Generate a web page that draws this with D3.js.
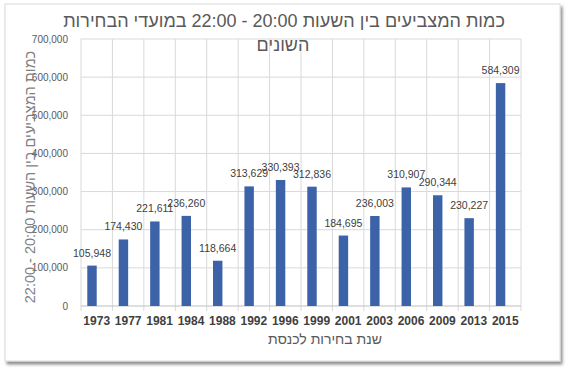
<!DOCTYPE html>
<html lang="he">
<head>
<meta charset="UTF-8">
<title>כמות המצביעים</title>
<script src="https://cdn.jsdelivr.net/npm/d3@7"></script>
<style>
    body { margin: 0; background: #fff; }
    svg text { font-family: "Liberation Sans", Arial, sans-serif; }
</style>
</head>
<body>
<div id="chart"></div>
<script>
    // data
    var years = ["1973", "1977", "1981", "1984", "1988", "1992", "1996", "1999", "2001", "2003", "2006", "2009", "2013", "2015"];
    var voters = [105948, 174430, 221611, 236260, 118664, 313629, 330393, 312836, 184695, 236003, 310907, 290344, 230227, 584309];
    var yTicks = [0, 100000, 200000, 300000, 400000, 500000, 600000, 700000];

    var width = 566;
    var height = 373;
    var plot = {left: 81, right: 521, top: 39, bottom: 306};

    var svg = d3.select("#chart")
        .append("svg")
        .attr("width", width)
        .attr("height", height);

    // frame with shadow
    var defs = svg.append("defs");
    var f = defs.append("filter").attr("id", "shadow")
        .attr("x", "-5%").attr("y", "-5%").attr("width", "110%").attr("height", "115%");
    f.append("feDropShadow")
        .attr("dx", 2).attr("dy", 3).attr("stdDeviation", 1.5)
        .attr("flood-color", "#000").attr("flood-opacity", 0.45);

    svg.append("rect")
        .attr("x", 5).attr("y", 4)
        .attr("width", 555).attr("height", 357)
        .attr("fill", "#fff")
        .attr("stroke", "#d9d9d9")
        .attr("filter", "url(#shadow)");

    var xScale = d3.scaleBand()
        .domain(years)
        .range([plot.left, plot.right]);

    var yScale = d3.scaleLinear()
        .domain([0, 700000])
        .range([plot.bottom, plot.top]);

    // horizontal grid
    svg.append("g")
        .selectAll("line")
        .data(yTicks.slice(1))
        .enter()
        .append("line")
        .attr("x1", plot.left).attr("x2", plot.right)
        .attr("y1", function (d) { return yScale(d); })
        .attr("y2", function (d) { return yScale(d); })
        .attr("stroke", "#d9d9d9");

    // vertical grid at category boundaries
    var bounds = years.map(function (d) { return xScale(d); }).concat([plot.right]);
    svg.append("g")
        .selectAll("line")
        .data(bounds)
        .enter()
        .append("line")
        .attr("x1", function (d) { return d; })
        .attr("x2", function (d) { return d; })
        .attr("y1", plot.top).attr("y2", plot.bottom + 5)
        .attr("stroke", "#d9d9d9");

    // x axis line
    svg.append("line")
        .attr("x1", plot.left).attr("x2", plot.right)
        .attr("y1", plot.bottom).attr("y2", plot.bottom)
        .attr("stroke", "#bfbfbf");

    // bars (first of two clustered slots, like the original)
    var barW = xScale.bandwidth() * 0.3;
    svg.append("g")
        .selectAll("rect")
        .data(voters)
        .enter()
        .append("rect")
        .attr("fill", "#3c62a8")
        .attr("x", function (d, i) { return xScale(years[i]) + xScale.bandwidth() / 2 - barW; })
        .attr("y", function (d) { return yScale(d); })
        .attr("width", barW)
        .attr("height", function (d) { return plot.bottom - yScale(d); });

    // data labels
    svg.append("g")
        .selectAll("text")
        .data(voters)
        .enter()
        .append("text")
        .attr("x", function (d, i) { return xScale(years[i]) + xScale.bandwidth() / 2 - barW / 2; })
        .attr("y", function (d) { return yScale(d) - 9; })
        .attr("text-anchor", "middle")
        .attr("fill", "#404040")
        .style("font-size", "10.5px")
        .text(function (d) { return d3.format(",")(d); });

    // y tick labels
    svg.append("g")
        .selectAll("text")
        .data(yTicks)
        .enter()
        .append("text")
        .attr("x", 68)
        .attr("y", function (d) { return yScale(d) + 3.5; })
        .attr("text-anchor", "end")
        .attr("fill", "#595959")
        .style("font-size", "10px")
        .text(function (d) { return d3.format(",")(d); });

    // x tick labels
    svg.append("g")
        .selectAll("text")
        .data(years)
        .enter()
        .append("text")
        .attr("x", function (d) { return xScale(d) + xScale.bandwidth() / 2; })
        .attr("y", 325)
        .attr("text-anchor", "middle")
        .attr("fill", "#404040")
        .style("font-size", "12px")
        .style("font-weight", "bold")
        .text(function (d) { return d; });

    // titles
    var title = svg.append("text")
        .attr("direction", "rtl")
        .attr("text-anchor", "middle")
        .attr("fill", "#595959")
        .style("font-size", "18px");
    title.append("tspan").attr("x", 284).attr("y", 27)
        .text("כמות המצביעים בין השעות 20:00 - 22:00 במועדי הבחירות");
    title.append("tspan").attr("x", 283).attr("y", 51)
        .text("השונים");

    svg.append("text")
        .attr("direction", "rtl")
        .attr("text-anchor", "middle")
        .attr("x", 325).attr("y", 344)
        .attr("fill", "#595959")
        .style("font-size", "14px")
        .text("שנת בחירות לכנסת");

    svg.append("text")
        .attr("direction", "rtl")
        .attr("text-anchor", "middle")
        .attr("transform", "translate(35,177) rotate(-90)")
        .attr("fill", "#7f7f7f")
        .style("font-size", "14.5px")
        .text("כמות המצביעים בין השעות 20:00 - 22:00");
</script>
</body>
</html>
